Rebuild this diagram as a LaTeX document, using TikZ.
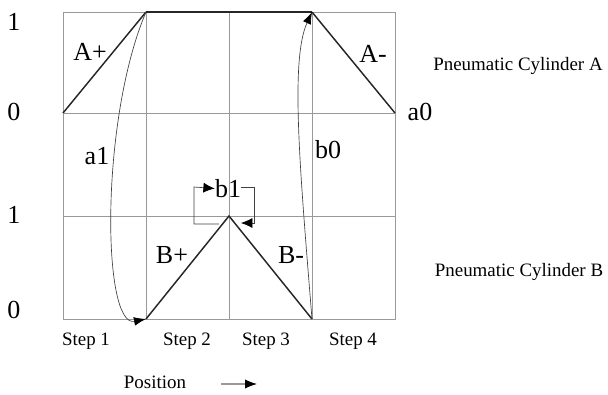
\documentclass[tikz,border=0pt]{standalone}
\usepackage{fontspec}
\setmainfont{Liberation Serif}
\usetikzlibrary{arrows.meta}
\begin{document}
\begin{tikzpicture}[x=0.75pt,y=-0.75pt,
  gridline/.style={draw=gray!80, line width=0.6pt},
  motion/.style={draw=black!85, line width=1.1pt},
  signal/.style={draw=black!75, line width=0.5pt, -{Latex[length=9pt,width=6.5pt,color=black]}},
  bracket/.style={draw=black!75, line width=0.5pt, -{Latex[length=8.5pt,width=7.5pt,color=black]}},
  big/.style={font=\fontsize{19.5}{23}\selectfont, inner sep=0pt},
  small/.style={font=\fontsize{14.2}{17}\selectfont, inner sep=0pt}]
\useasboundingbox (0,0) rectangle (608,394);
% grid
\draw[gridline] (63,12) rectangle (395,319);
\foreach \x in {146,229,312} \draw[gridline] (\x,12) -- (\x,319);
\foreach \y in {113,216} \draw[gridline] (63,\y) -- (395,\y);
% key points
\coordinate (aS) at (63,113);
\coordinate (aUp) at (146,12);
\coordinate (aUpEnd) at (312,12);
\coordinate (aE) at (395,113);
\coordinate (bS) at (146,319);
\coordinate (bUp) at (229,216);
\coordinate (bE) at (312,319);
% motion lines
\draw[motion] (aS) -- (aUp);
\draw[motion, line width=1.5pt] (aUp) -- (aUpEnd);
\draw[motion] (aUpEnd) -- (aE);
\draw[motion] (bS) -- (bUp) -- (bE);
% labels
\node[big] (one1) at (14,22) {1};
\node[big] (zero1) at (14,112) {0};
\node[big] (one2) at (14,215) {1};
\node[big] (zero2) at (14,310) {0};
\node[big] (Aplus) at (90,52) {A+};
\node[big] (Aminus) at (373,54) {A-};
\node[big] (a0) at (420,112) {a0};
\node[big] (a1) at (97,156) {a1};
\node[big] (b0) at (328,150) {b0};
\node[big] (b1) at (228,188.5) {b1};
\node[big] (Bplus) at (172,255) {B+};
\node[big] (Bminus) at (291,255) {B-};
\node[small] (pcA) at (518,66) {Pneumatic Cylinder A};
\node[small] (pcB) at (519,272) {Pneumatic Cylinder B};
\node[small] (s1) at (86,341.5) {Step 1};
\node[small] (s2) at (187,341.5) {Step 2};
\node[small] (s3) at (266,341.5) {Step 3};
\node[small] (s4) at (353,341.5) {Step 4};
\node[small] (pos) at (155,382) {Position};
% signal curves
\draw[signal] (aUp) .. controls (100,120) and (102,328) .. (bS);
\draw[signal] (bE) .. controls (300,170) and (290,60) .. (aUpEnd);
% b1 bracket
\coordinate (bl1) at (219,224);
\coordinate (bl2) at (194,187);
\coordinate (br1) at (254,187);
\coordinate (br2) at (241,223);
\draw[bracket] (bl1) -| (bl2) -- (b1.west);
\draw[bracket] (b1.east |- br1) -- (br1) |- (br2);
% position arrow
\coordinate (pa) at (221,384);
\coordinate (pb) at (257,384);
\draw[draw=gray!80, line width=0.8pt, -{Latex[length=9pt,width=7pt,color=black]}] (pa) -- (pb);
\end{tikzpicture}
\end{document}
